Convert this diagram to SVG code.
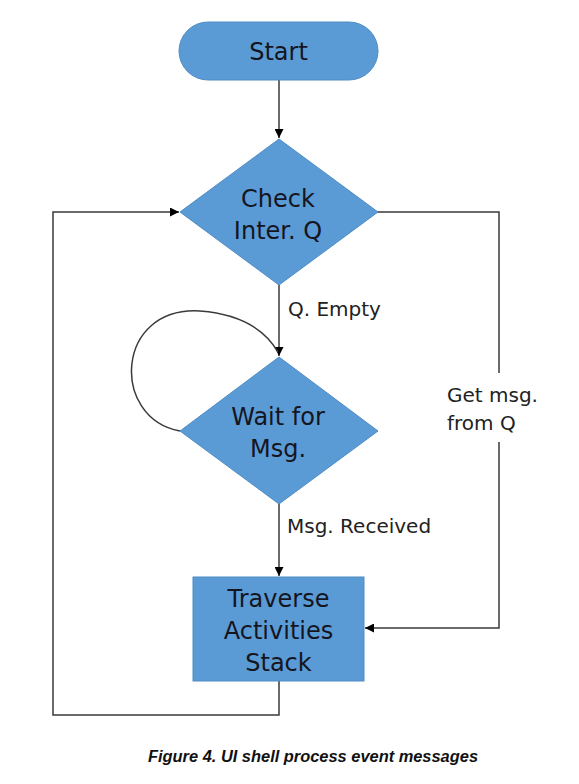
<svg xmlns="http://www.w3.org/2000/svg" width="579" height="784" viewBox="0 0 579 784">
  <style>
    .node { fill: #5b9bd5; stroke: #4f8cc4; stroke-width: 1; }
    .label { font-family: "DejaVu Sans", Verdana, sans-serif; font-size: 24px; fill: #15151f; text-anchor: middle; }
    .edge-label { font-family: "DejaVu Sans", Verdana, sans-serif; font-size: 20px; fill: #222; }
    .conn { fill: none; stroke: #3a3a3a; stroke-width: 1.5; }
    .caption { font-family: "Liberation Sans", Arial, sans-serif; font-size: 16px; font-weight: bold; font-style: italic; fill: #111; }
  </style>
  <defs>
    <marker id="arrow" viewBox="0 0 10 10" refX="10" refY="5" markerWidth="9" markerHeight="9" markerUnits="userSpaceOnUse" orient="auto">
      <path d="M0,0 L10,5 L0,10 Z" fill="#000"/>
    </marker>
  </defs>
  <rect x="0" y="0" width="579" height="784" fill="#ffffff"/>

  <g id="connectors">
    <path class="conn" d="M279,80 L279,138" marker-end="url(#arrow)"/>
    <path class="conn" d="M279,285 L279,356" marker-end="url(#arrow)"/>
    <path class="conn" d="M180,431 C110,418 115,306 200,311 C240,314 265,330 278,352"/>
    <path class="conn" d="M279,503 L279,576" marker-end="url(#arrow)"/>
    <path class="conn" d="M377,212 L499,212 L499,628 L365,628" marker-end="url(#arrow)"/>
    <path class="conn" d="M279,681 L279,715 L53,715 L53,212 L179,212" marker-end="url(#arrow)"/>
    <rect x="433" y="373" width="110" height="69" fill="#ffffff"/>
    <text class="edge-label" x="288" y="316">Q. Empty</text>
    <text class="edge-label" x="287" y="533">Msg. Received</text>
    <text class="edge-label" x="447" y="402">Get msg.</text>
    <text class="edge-label" x="447" y="430">from Q</text>
  </g>

  <g id="start">
    <rect class="node" x="179" y="22" width="199" height="58" rx="29" ry="29"/>
    <text class="label" x="278.5" y="60">Start</text>
  </g>

  <g id="check">
    <polygon class="node" points="279,139 378,212 279,285 180,212"/>
    <text class="label" x="278" y="207">Check</text>
    <text class="label" x="278" y="239">Inter. Q</text>
  </g>

  <g id="wait">
    <polygon class="node" points="279,357 378,431 279,504 180,431"/>
    <text class="label" x="278" y="425">Wait for</text>
    <text class="label" x="278" y="457">Msg.</text>
  </g>

  <g id="traverse">
    <rect class="node" x="193" y="577" width="171" height="104"/>
    <text class="label" x="278.5" y="607">Traverse</text>
    <text class="label" x="278.5" y="639">Activities</text>
    <text class="label" x="278.5" y="671">Stack</text>
  </g>

  <text class="caption" x="148" y="762" textLength="330" lengthAdjust="spacingAndGlyphs">Figure 4. UI shell process event messages</text>
</svg>
